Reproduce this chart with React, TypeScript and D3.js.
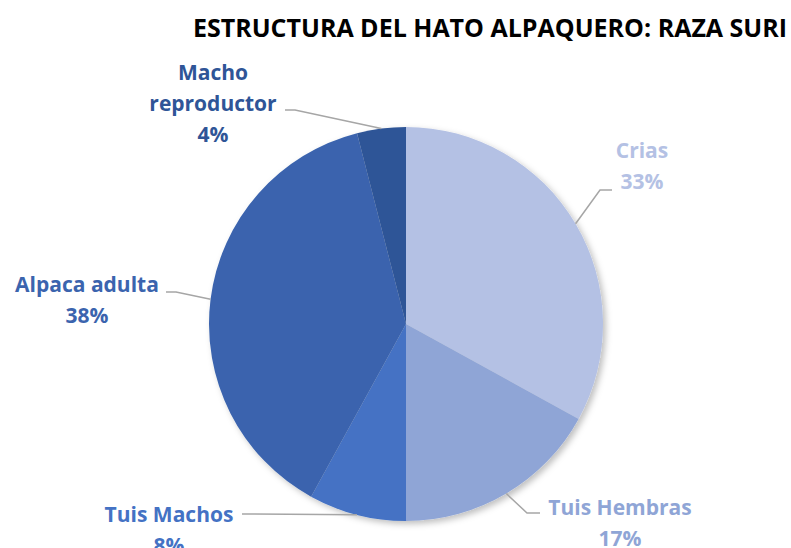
import React, { useEffect, useRef } from "react";
import * as d3 from "d3";

const categories = ["Crias", "Tuis Hembras", "Tuis Machos", "Alpaca adulta", "Macho reproductor"];
const values = [33, 17, 8, 38, 4];
const labelLines = [["Crias"], ["Tuis Hembras"], ["Tuis Machos"], ["Alpaca adulta"], ["Macho", "reproductor"]];
const colors = ["#b4c1e4", "#8fa5d6", "#4472c4", "#3b64ae", "#2f5597"];
const title = "ESTRUCTURA DEL HATO ALPAQUERO: RAZA SURI";

// label layout: text centre x, first baseline, leader start and elbow
const labelLayout = [
  { x: 642, y: 158, lead: [612, 190], elbow: [600, 190] },
  { x: 620, y: 515, lead: [540, 513], elbow: [527, 513] },
  { x: 169, y: 522, lead: [242, 514], elbow: [252, 514] },
  { x: 87, y: 292, lead: [166, 292], elbow: [176, 292] },
  { x: 213, y: 80, lead: [285, 110], elbow: [295, 110] },
];

const W = 791;
const H = 548;

const App = () => {
  const ref = useRef<SVGSVGElement | null>(null);

  useEffect(() => {
    const svg = d3.select(ref.current);
    svg.selectAll("*").remove();

    const cx = 406;
    const cy = 324;
    const r = 197;

    const defs = svg.append("defs");
    const f = defs.append("filter").attr("id", "shadow").attr("x", "-10%").attr("y", "-10%").attr("width", "125%").attr("height", "125%");
    f.append("feDropShadow").attr("dx", 3).attr("dy", 3).attr("stdDeviation", 3).attr("flood-color", "#000").attr("flood-opacity", 0.25);

    svg
      .append("text")
      .attr("x", 490)
      .attr("y", 37)
      .attr("text-anchor", "middle")
      .attr("font-family", "Open Sans, sans-serif")
      .attr("font-weight", "bold")
      .attr("font-size", 25)
      .attr("fill", "#000")
      .text(title);

    const data = categories.map((c, i) => ({ name: c, value: values[i], i }));
    const pie = d3.pie<any>().value((d) => d.value).sort(null);
    const arcs = pie(data);
    const arc = d3.arc<any>().innerRadius(0).outerRadius(r);

    const g = svg.append("g").attr("transform", `translate(${cx},${cy})`);
    g.append("g")
      .attr("filter", "url(#shadow)")
      .selectAll("path")
      .data(arcs)
      .enter()
      .append("path")
      .attr("d", arc as any)
      .attr("fill", (d: any) => colors[d.data.i]);

    // leader lines
    arcs.forEach((a: any) => {
      const i = a.data.i;
      const mid = (a.startAngle + a.endAngle) / 2;
      const px = cx + r * Math.sin(mid);
      const py = cy - r * Math.cos(mid);
      const L = labelLayout[i];
      svg
        .append("path")
        .attr("d", d3.line()([L.lead as [number, number], L.elbow as [number, number], [px, py]]))
        .attr("fill", "none")
        .attr("stroke", "#a6a6a6")
        .attr("stroke-width", 1.5);

      const t = svg
        .append("text")
        .attr("text-anchor", "middle")
        .attr("font-family", "Open Sans, sans-serif")
        .attr("font-weight", "bold")
        .attr("font-size", 21)
        .attr("fill", colors[i]);
      const lines = [...labelLines[i], `${values[i]}%`];
      lines.forEach((ln, k) => {
        t.append("tspan").attr("x", L.x).attr("y", L.y + k * 31).text(ln);
      });
    });
  }, []);

  return (
    <div style={{ position: "absolute", left: 0, top: 0, width: W, height: H, background: "#fff" }}>
      <svg ref={ref} width={W} height={H} style={{ display: "block" }} />
    </div>
  );
};

export default App;
